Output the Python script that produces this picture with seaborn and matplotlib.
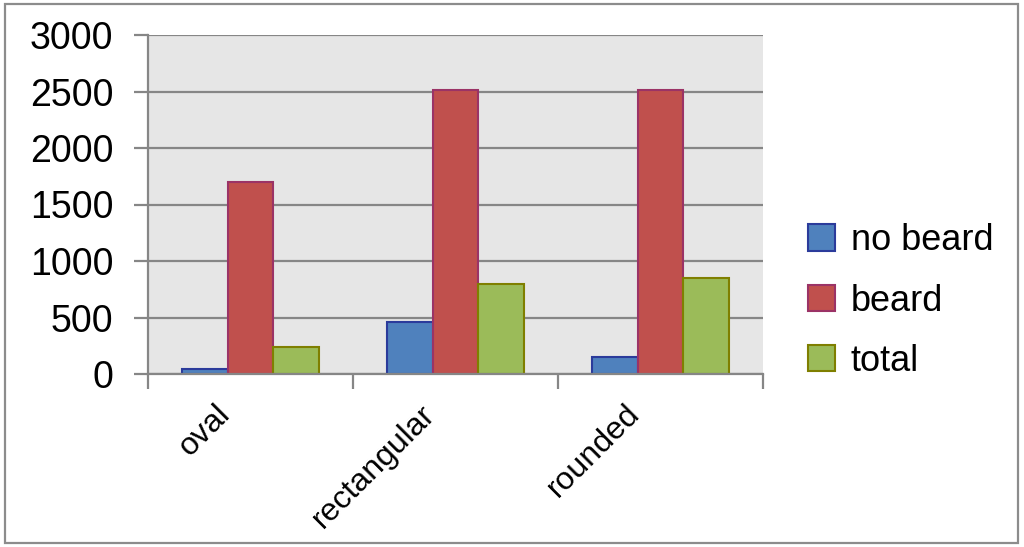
import matplotlib
matplotlib.use("Agg")
import matplotlib.pyplot as plt
import matplotlib.transforms as mtrans
import numpy as np
import pandas as pd
import seaborn as sns
from matplotlib.patches import Patch, Rectangle
from matplotlib.ticker import FixedLocator

categories = ["oval", "rectangular", "rounded"]
series = ["no beard", "beard", "total"]
no_beard = [48, 460, 152]
beard = [1700, 2510, 2510]
total = [236, 795, 852]

fills = ["#4F81BD", "#C0504D", "#9BBB59"]
edges = ["#2B3B9B", "#9B3366", "#7F7F00"]

df = pd.DataFrame({
    "shape": categories * 3,
    "group": [s for s in series for _ in categories],
    "count": no_beard + beard + total,
})

sns.set_style("white")
plt.rcParams["font.family"] = ["Liberation Sans", "DejaVu Sans"]
plt.rcParams["text.color"] = "black"
plt.rcParams["xtick.labelcolor"] = "black"
plt.rcParams["ytick.labelcolor"] = "black"

fig = plt.figure(figsize=(10.24, 5.47), dpi=100)
ax = fig.add_axes([148 / 1024, 1 - 374 / 547, (763 - 148) / 1024, (374 - 35) / 547])

sns.barplot(
    data=df, x="shape", y="count", hue="group", order=categories,
    hue_order=series, palette=fills, width=0.67, ax=ax,
    saturation=1, legend=False, linewidth=1.5,
)
for cont, ec in zip(ax.containers, edges):
    for bar in cont:
        bar.set_edgecolor(ec)

grid_c = "#868686"
ax.set_facecolor("#E6E6E6")
ax.set_ylim(0, 3000)
ax.set_xlim(-0.5, 2.5)
ax.set_yticks(np.arange(0, 3001, 500))
ax.yaxis.grid(True, color=grid_c, linewidth=1.6)
ax.set_axisbelow(True)
for side in ["top", "right"]:
    ax.spines[side].set_visible(False)
for side in ["left", "bottom"]:
    ax.spines[side].set_color(grid_c)
    ax.spines[side].set_linewidth(1.6)

ax.tick_params(axis="y", length=10, width=1.6, color=grid_c, pad=15,
               labelsize=27, labelcolor="black", direction="out", left=True)
ax.set_xticks(range(len(categories)))
ax.set_xticklabels(categories, rotation=45, ha="right", rotation_mode="anchor",
                   fontsize=23, color="black")
ax.tick_params(axis="x", which="major", length=0, pad=18)
shift = mtrans.ScaledTranslation(-36 / 100, 0, fig.dpi_scale_trans)
for lab in ax.get_xticklabels():
    lab.set_transform(lab.get_transform() + shift)
ax.xaxis.set_minor_locator(FixedLocator([-0.5, 0.5, 1.5, 2.5]))
ax.tick_params(axis="x", which="minor", length=11, width=1.6, color=grid_c,
               direction="out", bottom=True)
ax.set_xlabel("")
ax.set_ylabel("")

handles = [Patch(facecolor=f, edgecolor=e, linewidth=1.5) for f, e in zip(fills, edges)]
fig.legend(handles, series, loc="center left", bbox_to_anchor=(775 / 1024, 1 - 301 / 547),
           frameon=False, fontsize=26, handlelength=0.75, handleheight=0.75,
           handletextpad=0.45, labelspacing=0.7, labelcolor="black")

fig.patches.append(Rectangle((5 / 1024, 4 / 547), 1013 / 1024, 539 / 547,
                             transform=fig.transFigure, fill=False,
                             edgecolor="#8C8C8C", linewidth=1.6))

fig.savefig("out.png", dpi=100)
